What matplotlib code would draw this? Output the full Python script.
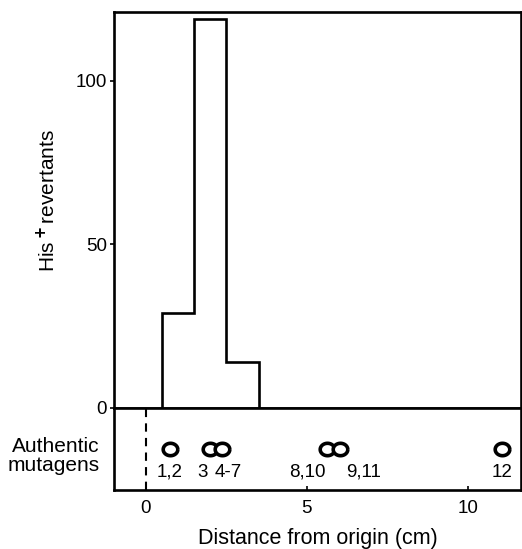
import numpy as np
import matplotlib.pyplot as plt
from matplotlib.path import Path

plt.rcParams['font.family'] = ['Liberation Sans', 'DejaVu Sans']

# histogram of His+ revertants along the plate (bin edges in cm)
bin_edges = [0.5, 1.5, 2.5, 3.5]
revertants = [29, 119, 14]

# authentic mutagen spots
spot_x = [0.75, 2.0, 2.37, 5.62, 6.02, 11.05]
label_x = [0.75, 1.77, 2.55, 5.0, 6.75, 11.05]
label_txt = ["1,2", "3", "4-7", "8,10", "9,11", "12"]

fig = plt.figure(figsize=(5.22, 5.49), dpi=100)
ax = fig.add_axes([0.218, 0.257, 0.78, 0.721])
ax2 = fig.add_axes([0.218, 0.107, 0.78, 0.150], sharex=ax)

lw = 1.9
for a in (ax, ax2):
    for s in a.spines.values():
        s.set_linewidth(lw)

# upper panel: step histogram
xs = [bin_edges[0]] + list(np.repeat(bin_edges, 2)[1:-1]) + [bin_edges[-1]]
ys = [0] + list(np.repeat(revertants, 2)) + [0]
ax.plot(xs, ys, color='black', lw=lw, solid_joinstyle='miter')
ax.set_xlim(-1.0, 11.65)
ax.set_ylim(0, 121)
ax.set_yticks([0, 50, 100])
ax.tick_params(axis='y', direction='out', length=3, width=1.2, labelsize=13.5, pad=2)
ax.tick_params(axis='x', bottom=False, labelbottom=False)
ax.set_ylabel(r'His$^{\bf +}$revertants', fontsize=15)
ax.yaxis.set_label_coords(-0.135, 0.525)

# lower panel: mutagen spots (slightly flattened rings)
t = np.linspace(0, 2 * np.pi, 60)
ring = Path(np.column_stack([np.cos(t), 0.85 * np.sin(t)]))
ax2.set_ylim(0, 1)
ax2.axvline(0, color='black', lw=1.5, ls=(0, (4, 3)))
ax2.plot(spot_x, [0.5] * len(spot_x), ls='none', marker=ring, ms=10.5,
         mfc='white', mec='black', mew=2.6)
for x, s in zip(label_x, label_txt):
    ax2.text(x, 0.22, s, ha='center', va='center', fontsize=13.5)
ax2.set_yticks([])
ax2.set_xticks([0, 5, 10])
ax2.tick_params(axis='x', direction='in', length=3, width=1.2, labelsize=13.5, pad=7)
ax2.set_xlabel('Distance from origin (cm)', fontsize=15.5, labelpad=8)
ax2.text(-0.035, 0.41, 'Authentic\nmutagens', transform=ax2.transAxes,
         ha='right', va='center', fontsize=15, linespacing=1.0)

fig.savefig('out.png', dpi=100)
